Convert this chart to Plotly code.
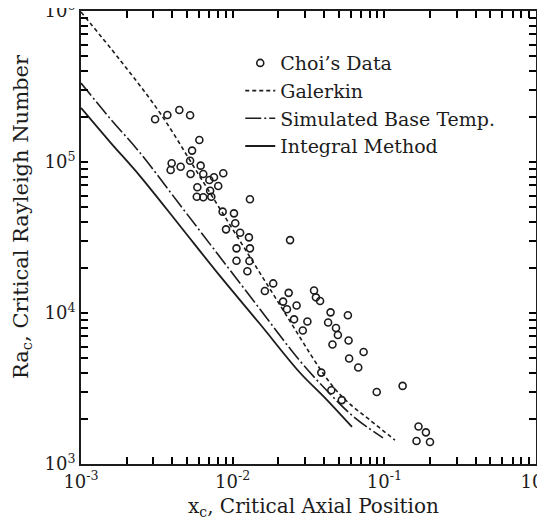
import plotly.graph_objects as go

# Choi's data (open circles)
choi_x = [0.00308, 0.00371, 0.00445, 0.00524, 0.00603, 0.00540, 0.00524, 0.00396, 0.00454, 0.00390,
          0.00615, 0.00528, 0.00640, 0.00867, 0.00753, 0.00702, 0.00803, 0.00585, 0.00710, 0.00580,
          0.00640, 0.00723, 0.0130, 0.00859, 0.0102, 0.0104, 0.00904, 0.0112, 0.0239, 0.0128,
          0.0106, 0.0130, 0.0129, 0.0106, 0.0125, 0.0185, 0.0163, 0.0234, 0.0215, 0.0264,
          0.0344, 0.0354, 0.0377, 0.0228, 0.0254, 0.0311, 0.0290, 0.0442, 0.0575, 0.0426,
          0.0480, 0.0494, 0.0581, 0.0455, 0.0730, 0.0586, 0.0673, 0.0384, 0.0447, 0.0524,
          0.0891, 0.132, 0.168, 0.188, 0.163, 0.200]
choi_y = [1.92e5, 2.05e5, 2.21e5, 2.04e5, 1.40e5, 1.19e5, 1.02e5, 9.8e4, 9.3e4, 8.85e4,
          9.46e4, 8.33e4, 8.33e4, 8.42e4, 7.92e4, 7.60e4, 6.94e4, 6.80e4, 6.45e4, 5.89e4,
          5.84e4, 5.89e4, 5.66e4, 4.69e4, 4.57e4, 3.93e4, 3.58e4, 3.40e4, 3.04e4, 3.17e4,
          2.68e4, 2.68e4, 2.21e4, 2.22e4, 1.89e4, 1.57e4, 1.40e4, 1.36e4, 1.19e4, 1.12e4,
          1.41e4, 1.27e4, 1.20e4, 1.06e4, 9.08e3, 8.79e3, 7.66e3, 1.01e4, 9.66e3, 8.65e3,
          7.96e3, 7.15e3, 6.58e3, 6.18e3, 5.52e3, 5.00e3, 4.36e3, 4.03e3, 3.08e3, 2.65e3,
          3.00e3, 3.29e3, 1.77e3, 1.62e3, 1.42e3, 1.40e3]

# Galerkin
galerkin_x = [0.00100, 0.00181, 0.00332, 0.00610, 0.01117, 0.0205, 0.0377, 0.0473, 0.0594, 0.0805, 0.1175]
galerkin_y = [9.84e5, 4.73e5, 2.11e5, 7.96e4, 3.00e4, 1.13e4, 4.26e3, 3.14e3, 2.49e3, 1.95e3, 1.44e3]

# Simulated base temperature
simbase_x = [0.00100, 0.00155, 0.00245, 0.00450, 0.00824, 0.01514, 0.0278, 0.0439, 0.0640, 0.0980]
simbase_y = [3.33e5, 1.95e5, 1.15e5, 5.19e4, 2.35e4, 1.06e4, 4.81e3, 2.91e3, 2.02e3, 1.49e3]

# Integral method
integral_x = [0.00100, 0.00155, 0.00245, 0.00450, 0.00824, 0.01514, 0.0278, 0.0406, 0.0612]
integral_y = [2.28e5, 1.36e5, 8.07e4, 3.77e4, 1.76e4, 8.45e3, 4.02e3, 2.74e3, 1.76e3]

# Axis ticks: labelled decades plus unlabelled 2..9 sub-ticks
x_major = [0.001, 0.01, 0.1, 1]
x_major_text = ["10<sup>-3</sup>", "10<sup>-2</sup>", "10<sup>-1</sup>", "10<sup>0</sup>"]
y_major = [1e3, 1e4, 1e5, 1e6]
y_major_text = ["10<sup>3</sup>", "10<sup>4</sup>", "10<sup>5</sup>", "10<sup>6</sup>"]
x_minor = [m * 10.0 ** e for e in (-3, -2, -1) for m in range(2, 10)]
y_minor = [m * 10.0 ** e for e in (3, 4, 5) for m in range(2, 10)]

INK = "#1c1c1c"
FONT = "DejaVu Serif"

# The page body keeps the browser's default 8px margin; size the figure to fit the window.
BODY = 8
WIN_W, WIN_H = 545, 522
PLOT_L, PLOT_R, PLOT_T, PLOT_B = 81, 536, 11, 464   # plot frame in window pixels
PW, PH = PLOT_R - PLOT_L, PLOT_B - PLOT_T

fig = go.Figure()
fig.add_trace(go.Scatter(
    x=choi_x, y=choi_y, mode="markers", name="Choi\u2019s Data",
    marker=dict(symbol="circle-open", size=7, color=INK, line=dict(width=1.6, color=INK)),
    legendgroup="a"))
fig.add_trace(go.Scatter(
    x=galerkin_x, y=galerkin_y, mode="lines", name="Galerkin",
    line=dict(color=INK, width=1.6, dash="4px,3px", shape="spline", smoothing=1.0),
    legendgroup="b"))
fig.add_trace(go.Scatter(
    x=simbase_x, y=simbase_y, mode="lines", name="Simulated Base Temp.",
    line=dict(color=INK, width=1.6, dash="16px,3px,2px,3px", shape="spline", smoothing=1.0),
    legendgroup="c"))
fig.add_trace(go.Scatter(
    x=integral_x, y=integral_y, mode="lines", name="Integral Method",
    line=dict(color=INK, width=1.8, shape="spline", smoothing=1.0),
    legendgroup="d"))

axis_common = dict(
    type="log", showgrid=False, zeroline=False, automargin=False,
    showline=True, linecolor=INK, linewidth=2, mirror="allticks",
    ticks="inside", ticklen=7, tickwidth=2, tickcolor="black",
    layer="above traces",
    ticklabeloverflow="allow",
    tickfont=dict(family=FONT, size=18, color=INK),
)

fig.update_layout(
    width=WIN_W - BODY, height=WIN_H - BODY,
    margin=dict(l=PLOT_L - BODY, r=WIN_W - PLOT_R, t=PLOT_T - BODY, b=WIN_H - PLOT_B,
                autoexpand=False),
    paper_bgcolor="white", plot_bgcolor="white",
    showlegend=True,
    legend=dict(x=0.350, y=0.927, xanchor="left", yanchor="top",
                bgcolor="rgba(0,0,0,0)", font=dict(family=FONT, size=19, color=INK),
                tracegroupgap=0, itemwidth=30),
    xaxis=dict(axis_common, range=[-3, 0], tickmode="array",
               tickvals=x_major + x_minor,
               ticktext=x_major_text + [""] * len(x_minor)),
    yaxis=dict(axis_common, range=[3, 6], tickmode="array",
               tickvals=y_major + y_minor,
               ticktext=y_major_text + [""] * len(y_minor)),
    annotations=[
        dict(text="Ra<sub>c</sub>, Critical Rayleigh Number",
             textangle=-90, xref="paper", yref="paper",
             x=(22 - PLOT_L) / PW, y=(PLOT_B - 217) / PH, xanchor="center", yanchor="middle",
             showarrow=False, font=dict(family=FONT, size=21, color=INK)),
        dict(text="x<sub>c</sub>, Critical Axial Position",
             xref="paper", yref="paper",
             x=(313 - PLOT_L) / PW, y=(PLOT_B - 507) / PH, xanchor="center", yanchor="middle",
             showarrow=False, font=dict(family=FONT, size=20, color=INK)),
    ],
)

fig.write_html("out.html", config={"displayModeBar": False})
